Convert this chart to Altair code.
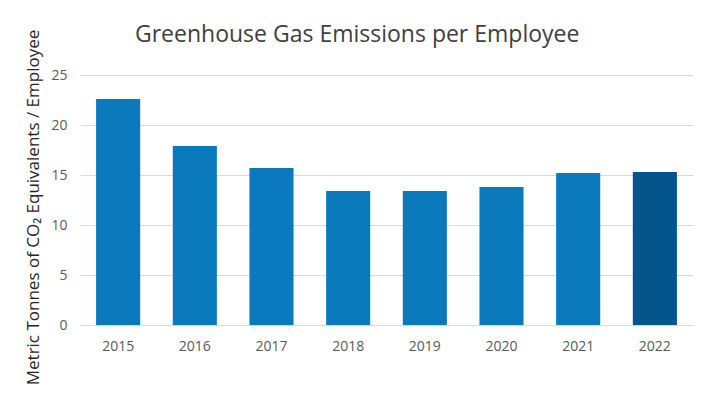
import altair as alt
import pandas as pd

years = ["2015", "2016", "2017", "2018", "2019", "2020", "2021", "2022"]
emissions = [22.6, 17.9, 15.7, 13.4, 13.4, 13.8, 15.2, 15.3]

df = pd.DataFrame({"year": years, "value": emissions})

LIGHT = "#0a7abd"
DARK = "#04558a"
TEXT = "#595959"

chart = (
    alt.Chart(df)
    .mark_bar()
    .encode(
        x=alt.X(
            "year:N",
            sort=years,
            scale=alt.Scale(paddingInner=0.425, paddingOuter=0.21),
            axis=alt.Axis(
                title=None,
                labelAngle=0,
                labelFont="Open Sans",
                labelFontSize=14,
                labelColor=TEXT,
                labelPadding=14,
                ticks=False,
                domainColor="#d9d9d9",
                domainWidth=1,
                grid=False,
            ),
        ),
        y=alt.Y(
            "value:Q",
            scale=alt.Scale(domain=[0, 25], nice=False),
            axis=alt.Axis(
                values=[0, 5, 10, 15, 20, 25],
                title="Metric Tonnes of CO₂ Equivalents / Employee",
                titleFont="Open Sans",
                titleFontSize=17,
                titleFontWeight="normal",
                titleColor="#262626",
                titleAngle=270,
                titleAlign="center",
                titleBaseline="middle",
                titleX=-47,
                titleY=132,
                labelFont="Open Sans",
                labelFontSize=14,
                labelColor=TEXT,
                labelPadding=13,
                ticks=False,
                domain=False,
                grid=True,
                gridColor="#d9d9d9",
                gridWidth=1,
            ),
        ),
        color=alt.condition(alt.datum.year == "2022", alt.value(DARK), alt.value(LIGHT)),
    )
    .properties(
        width=613,
        height=250,
        title=alt.TitleParams(
            text="Greenhouse Gas Emissions per Employee",
            font="Open Sans",
            fontSize=23,
            fontWeight="normal",
            color="#404040",
            anchor="start",
            frame="group",
            dx=55,
            dy=36,
            baseline="alphabetic",
            offset=0,
        ),
        padding={"left": 72, "top": 67, "right": 8, "bottom": 70},
        autosize=alt.AutoSizeParams(type="none"),
    )
    .configure(background="white")
    .configure_view(stroke="transparent", strokeWidth=0)
)

chart.save("out.html", embed_options={"renderer": "svg", "actions": False})
